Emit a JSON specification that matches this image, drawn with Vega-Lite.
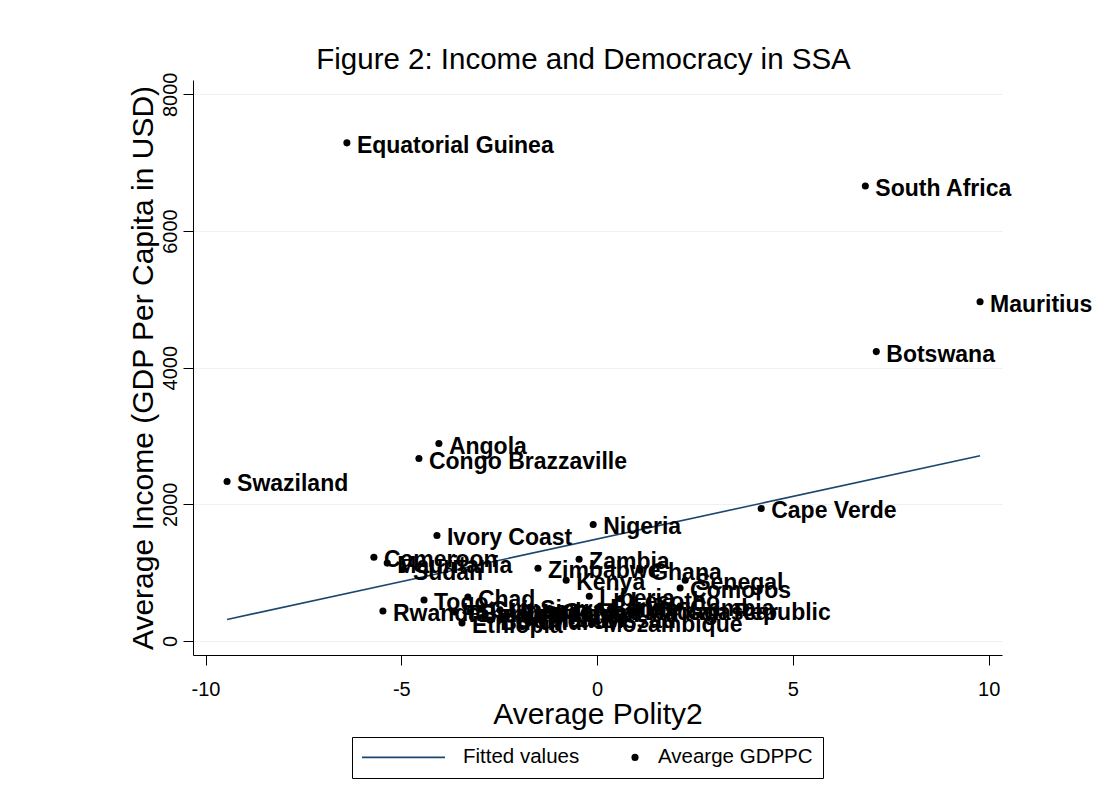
{
  "$schema": "https://vega.github.io/schema/vega-lite/v6.json",
  "width": 809,
  "height": 575,
  "autosize": {"type": "none"},
  "padding": {"left": 193, "top": 80, "right": 91, "bottom": 148},
  "background": "white",
  "config": {
    "font": "Liberation Sans",
    "view": {"stroke": null},
    "axis": {"domainColor": "black", "tickColor": "black", "labelColor": "black", "titleColor": "black", "labelFont": "Liberation Sans", "titleFont": "Liberation Sans", "titleFontWeight": "normal"}
  },
  "title": {"text": "Figure 2: Income and Democracy in SSA", "fontSize": 29.5, "fontWeight": "normal", "font": "Liberation Sans", "color": "black", "anchor": "middle", "frame": "group", "dx": -14, "offset": -26, "baseline": "alphabetic"},
  "datasets": {
    "countries": [
      {"country": "Equatorial Guinea", "polity": -6.39, "gdp": 7290},
      {"country": "South Africa", "polity": 6.85, "gdp": 6660},
      {"country": "Mauritius", "polity": 9.78, "gdp": 4965},
      {"country": "Botswana", "polity": 7.13, "gdp": 4235},
      {"country": "Angola", "polity": -4.04, "gdp": 2890},
      {"country": "Congo Brazzaville", "polity": -4.55, "gdp": 2670},
      {"country": "Swaziland", "polity": -9.45, "gdp": 2335},
      {"country": "Nigeria", "polity": -0.10, "gdp": 1705},
      {"country": "Cape Verde", "polity": 4.19, "gdp": 1940},
      {"country": "Ivory Coast", "polity": -4.09, "gdp": 1545},
      {"country": "Cameroon", "polity": -5.70, "gdp": 1225},
      {"country": "Mauritania", "polity": -5.36, "gdp": 1140},
      {"country": "Sudan", "polity": -4.96, "gdp": 1045},
      {"country": "Zambia", "polity": -0.46, "gdp": 1195},
      {"country": "Zimbabwe", "polity": -1.51, "gdp": 1065},
      {"country": "Kenya", "polity": -0.79, "gdp": 890},
      {"country": "Ghana", "polity": 1.10, "gdp": 1035},
      {"country": "Senegal", "polity": 2.25, "gdp": 890},
      {"country": "Comoros", "polity": 2.12, "gdp": 775},
      {"country": "Liberia", "polity": -0.20, "gdp": 655},
      {"country": "Lesotho", "polity": 0.60, "gdp": 620},
      {"country": "Togo", "polity": -4.42, "gdp": 600},
      {"country": "Chad", "polity": -3.30, "gdp": 645},
      {"country": "Rwanda", "polity": -5.47, "gdp": 440},
      {"country": "Ethiopia", "polity": -3.45, "gdp": 265},
      {"country": "Mozambique", "polity": -0.10, "gdp": 280},
      {"country": "Central African Republic", "polity": -1.12, "gdp": 455},
      {"country": "Madagascar", "polity": 0.97, "gdp": 455},
      {"country": "Tanzania", "polity": -3.63, "gdp": 425},
      {"country": "Benin", "polity": 0.08, "gdp": 510},
      {"country": "Burkina Faso", "polity": -3.24, "gdp": 425},
      {"country": "Malawi", "polity": -1.46, "gdp": 350},
      {"country": "Mali", "polity": -0.31, "gdp": 425},
      {"country": "Niger", "polity": -0.95, "gdp": 395},
      {"country": "Uganda", "polity": -2.48, "gdp": 455},
      {"country": "Sierra Leone", "polity": -1.71, "gdp": 495},
      {"country": "Gambia", "polity": 2.12, "gdp": 510},
      {"country": "Guinea", "polity": -2.99, "gdp": 480},
      {"country": "Guinea-Bissau", "polity": -2.35, "gdp": 335},
      {"country": "Burundi", "polity": -2.73, "gdp": 305}
    ],
    "fit": [
      {"polity": -9.45, "gdp": 315},
      {"polity": 9.78, "gdp": 2711}
    ]
  },
  "encoding": {
    "x": {"field": "polity", "type": "quantitative",
      "scale": {"domain": [-10.32, 10.34], "nice": false, "zero": false},
      "axis": {"title": "Average Polity2", "titleFontSize": 30, "titlePadding": 0, "values": [-10, -5, 0, 5, 10], "labelExpr": "datum.value < 0 ? '-' + abs(datum.value) : '' + datum.value", "labelFontSize": 20, "tickSize": 10, "labelPadding": 14, "grid": false, "labelFlush": false}},
    "y": {"field": "gdp", "type": "quantitative",
      "scale": {"domain": [-205, 8210], "nice": false, "zero": false},
      "axis": {"title": "Average Income (GDP Per Capita in USD)", "titleFontSize": 30, "titlePadding": 2, "values": [0, 2000, 4000, 6000, 8000], "format": "d", "labelFontSize": 20, "labelAngle": -90, "labelAlign": "center", "labelBaseline": "bottom", "tickSize": 10, "labelPadding": 3, "grid": true, "gridColor": "#eaf2f3", "gridWidth": 1.2, "labelFlush": false}}
  },
  "layer": [
    {
      "data": {"name": "fit"},
      "mark": {"type": "line", "strokeWidth": 1.6},
      "encoding": {
        "color": {"datum": "Fitted values", "type": "nominal",
          "scale": {"domain": ["Fitted values", "Avearge GDPPC"], "range": ["#1a476f", "black"]},
          "legend": {
            "title": null, "orient": "none", "legendX": 159, "legendY": 657, "direction": "horizontal",
            "strokeColor": "black", "fillColor": "white", "padding": 10, "cornerRadius": 0,
            "labelFont": "Liberation Sans", "labelFontSize": 20.5, "labelColor": "black",
            "columnPadding": 50, "symbolSize": 100, "symbolType": "stroke", "labelOffset": 18,
            "encode": {
              "symbols": {"update": {
                "shape": {"signal": "datum.value === 'Fitted values' ? 'stroke' : 'circle'"},
                "size": {"signal": "datum.value === 'Fitted values' ? 6889 : 50"},
                "x": {"signal": "datum.value === 'Fitted values' ? 41.5 : 5"},
                "fill": {"signal": "datum.value === 'Fitted values' ? 'transparent' : 'black'"},
                "stroke": {"signal": "datum.value === 'Fitted values' ? '#1a476f' : 'black'"},
                "strokeWidth": {"signal": "datum.value === 'Fitted values' ? 1.6 : 0"},
                "opacity": {"value": 1}
              }},
              "labels": {"update": {
                "x": {"signal": "datum.value === 'Fitted values' ? 101 : 28"}
              }}
            }
          }}
      }
    },
    {
      "data": {"name": "countries"},
      "mark": {"type": "point", "filled": true, "size": 50, "opacity": 1},
      "encoding": {
        "color": {"datum": "Avearge GDPPC", "type": "nominal"}
      }
    },
    {
      "data": {"name": "countries"},
      "mark": {"type": "text", "align": "left", "baseline": "alphabetic", "dx": 10, "dy": 10, "fontSize": 23, "fontWeight": "bold", "font": "Liberation Sans", "color": "black"},
      "encoding": {
        "text": {"field": "country", "type": "nominal"}
      }
    }
  ]
}
